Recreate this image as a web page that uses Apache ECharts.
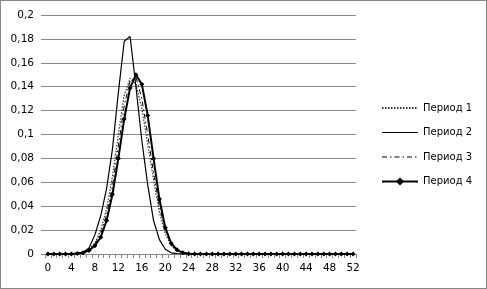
<!DOCTYPE html>
<html><head><meta charset="utf-8">
<script src="https://cdn.jsdelivr.net/npm/echarts@6/dist/echarts.min.js"></script>
<style>html,body{margin:0;padding:0;background:#fff}#c{width:487px;height:289px;box-sizing:border-box;border:1px solid #868686}</style>
</head><body><div id="c"></div>
<script>
const categories = Array.from({length:53},(_,i)=>String(i));
const yTicks = ['0','0,02','0,04','0,06','0,08','0,1','0,12','0,14','0,16','0,18','0,2'];
const period1 = [0,0,0,0,0,0.0005,0.0015,0.004,0.009,0.02,0.038,0.065,0.1,0.133,0.147,0.142,0.122,0.092,0.062,0.035,0.017,0.007,0.0025,0.0008,0.0002,0,0,0,0,0,0,0,0,0,0,0,0,0,0,0,0,0,0,0,0,0,0,0,0,0,0,0,0];
const period2 = [0,0,0,0,0,0.0005,0.0015,0.005,0.016,0.032,0.055,0.088,0.135,0.178,0.182,0.14,0.095,0.058,0.028,0.012,0.004,0.001,0.0003,0,0,0,0,0,0,0,0,0,0,0,0,0,0,0,0,0,0,0,0,0,0,0,0,0,0,0,0,0,0];
const period3 = [0,0,0,0,0,0.0005,0.0012,0.0035,0.008,0.017,0.033,0.057,0.09,0.124,0.145,0.148,0.13,0.1,0.068,0.04,0.02,0.008,0.003,0.001,0.0002,0,0,0,0,0,0,0,0,0,0,0,0,0,0,0,0,0,0,0,0,0,0,0,0,0,0,0,0];
const period4 = [0,0,0,0,0,0.0005,0.001,0.003,0.007,0.014,0.028,0.05,0.08,0.113,0.139,0.15,0.142,0.116,0.08,0.046,0.022,0.009,0.0035,0.001,0.0003,0,0,0,0,0,0,0,0,0,0,0,0,0,0,0,0,0,0,0,0,0,0,0,0,0,0,0,0];
const names = ['Период 1','Период 2','Период 3','Период 4'];
const font = 'DejaVu Sans';
const hidden = {color:'rgba(0,0,0,0)',borderWidth:0,borderColor:'rgba(0,0,0,0)'};
const chart = echarts.init(document.getElementById('c'));
chart.setOption({
  animation:false,
  grid:{left:44,top:14,width:311,bottom:34,containLabel:false},
  legend:{orient:'vertical',left:380,top:102,padding:0,itemWidth:36,itemHeight:10,itemGap:14.5,
    textStyle:{fontFamily:font,fontSize:10,color:'#000'},
    data:[{name:names[0],itemStyle:hidden},{name:names[1],itemStyle:hidden,lineStyle:{width:1}},{name:names[2],itemStyle:hidden,lineStyle:{width:1}},{name:names[3]}]},
  xAxis:{type:'category',data:categories,boundaryGap:true,
    axisLine:{lineStyle:{color:'#868686',width:1}},
    axisTick:{show:true,interval:0,length:4,lineStyle:{color:'#868686'}},
    axisLabel:{interval:3,margin:9,fontFamily:font,fontSize:10.5,color:'#000'}},
  yAxis:{type:'value',min:0,max:0.2,interval:0.02,
    axisLine:{show:false},
    axisTick:{show:true,length:4,lineStyle:{color:'#868686'}},
    splitLine:{lineStyle:{color:'#868686',width:1}},
    axisLabel:{margin:11,fontFamily:font,fontSize:10.5,color:'#000',
      formatter:(v)=>yTicks[Math.round(v/0.02)]}},
  series:[
    {name:names[0],type:'line',data:period1,symbol:'none',lineStyle:{color:'#333',width:1.2,type:[1.5,1.5]}},
    {name:names[1],type:'line',data:period2,symbol:'none',lineStyle:{color:'#000',width:1.2,type:'solid'}},
    {name:names[2],type:'line',data:period3,symbol:'none',lineStyle:{color:'#000',width:1,type:[5,3,1.5,3]}},
    {name:names[3],type:'line',data:period4,symbol:'diamond',symbolSize:5,showSymbol:true,showAllSymbol:true,lineStyle:{color:'#000',width:2},itemStyle:{color:'#000'}}
  ]
});
</script></body></html>
